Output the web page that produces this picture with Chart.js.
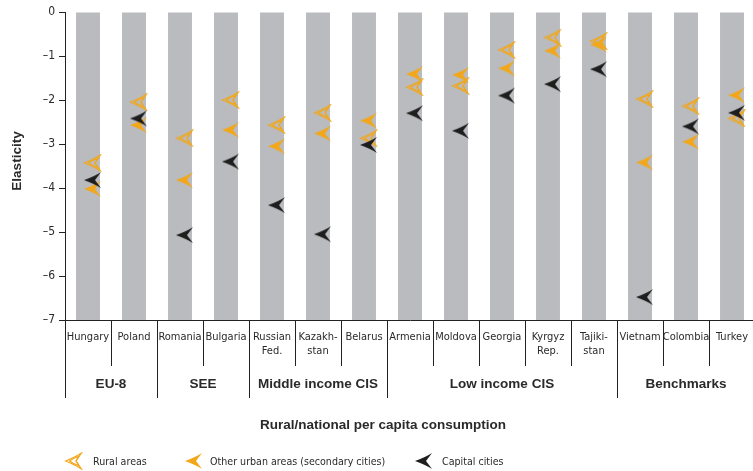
<!DOCTYPE html>
<html>
<head>
<meta charset="utf-8">
<script src="https://cdn.jsdelivr.net/npm/chart.js@4.4.0/dist/chart.umd.min.js"></script>
<style>
  html, body { margin: 0; padding: 0; background: #fff; overflow: hidden; }
  #wrap { width: 765px; height: 471px; position: relative; }
</style>
</head>
<body>
<div id="wrap"><canvas id="myChart"></canvas></div>
<script>
var countries = ['Hungary', 'Poland', 'Romania', 'Bulgaria', ['Russian', 'Fed.'], ['Kazakh-', 'stan'], 'Belarus',
    'Armenia', 'Moldova', 'Georgia', ['Kyrgyz', 'Rep.'], ['Tajiki-', 'stan'], 'Vietnam', 'Colombia', 'Turkey'];
var groupNames = ['EU-8', 'SEE', 'Middle income CIS', 'Low income CIS', 'Benchmarks'];
var groupSizes = [2, 2, 3, 5, 3];

var rural = [-3.43, -2.05, -2.87, -2.0, -2.57, -2.29, -2.87, -1.71, -1.68, -0.86, -0.58, -0.66, -1.98, -2.14, -2.42];
var otherUrban = [-4.02, -2.57, -3.82, -2.68, -3.05, -2.76, -2.47, -1.41, -1.43, -1.28, -0.88, -0.74, -3.42, -2.95, -1.89];
var capital = [-3.82, -2.42, -5.07, -3.4, -4.39, -5.05, -3.02, -2.3, -2.7, -1.9, -1.64, -1.3, -6.48, -2.6, -2.29];
// grey background columns run over the full scale
var columnFloor = [-7, -7, -7, -7, -7, -7, -7, -7, -7, -7, -7, -7, -7, -7, -7];
var yTicks = [0, -1, -2, -3, -4, -5, -6, -7];

var ORANGE = '#f2a71b';
var BLACK = '#1e1e1e';
var GREY = '#b9bbbe';
var TEXT = '#2a2a2a';
var NARROW = '"Liberation Sans Narrow", "DejaVu Sans Condensed", "Liberation Sans", sans-serif';
var BOLD = '"Liberation Sans", Arial, sans-serif';

/**
 * Builds an arrowhead marker pointing left, drawn a bit right of the canvas centre
 */
function makeArrow(color, hollow) {
    var c = document.createElement('canvas');
    c.width = 28;
    c.height = 18;
    var ctx = c.getContext('2d');
    function shape(tx, bx, nx, inset) {
        ctx.beginPath();
        ctx.moveTo(tx, 9);
        ctx.quadraticCurveTo(bx - 6, 5 + inset * 0.4, bx, 1 + inset);
        ctx.lineTo(nx, 9);
        ctx.lineTo(bx, 17 - inset);
        ctx.quadraticCurveTo(bx - 6, 13 - inset * 0.4, tx, 9);
        ctx.closePath();
    }
    if (hollow) {
        ctx.strokeStyle = color;
        ctx.lineWidth = 1.1;
        shape(10.5, 26.5, 21, 0);
        ctx.stroke();
        shape(14.5, 24, 21, 3.2);
        ctx.stroke();
    } else {
        ctx.fillStyle = color;
        shape(10, 27, 21, 0);
        ctx.fill();
    }
    return c;
}

var ruralMark = makeArrow(ORANGE, true);
var otherMark = makeArrow(ORANGE, false);
var capitalMark = makeArrow(BLACK, false);

var bottomPlugin = {
    id: 'bottomTable',
    afterDraw: function (chart) {
        var ctx = chart.ctx;
        var x = chart.scales.x;
        var area = chart.chartArea;
        var half = (x.getPixelForValue(1) - x.getPixelForValue(0)) / 2;
        ctx.save();
        ctx.strokeStyle = '#222';
        ctx.lineWidth = 1;
        // country separators
        for (var i = 1; i < countries.length; i++) {
            var px = Math.round(x.getPixelForValue(i) - half) + 0.5;
            ctx.beginPath();
            ctx.moveTo(px, area.bottom);
            ctx.lineTo(px, 366);
            ctx.stroke();
        }
        // group separators and names
        var start = 0;
        ctx.fillStyle = TEXT;
        ctx.font = 'bold 13.5px ' + BOLD;
        ctx.textAlign = 'center';
        ctx.textBaseline = 'middle';
        for (var g = 0; g < groupNames.length; g++) {
            var left = Math.round(x.getPixelForValue(start) - half) + 0.5;
            ctx.beginPath();
            ctx.moveTo(left, area.bottom);
            ctx.lineTo(left, 398);
            ctx.stroke();
            var end = start + groupSizes[g] - 1;
            var mid = (x.getPixelForValue(start) + x.getPixelForValue(end)) / 2;
            ctx.fillText(groupNames[g], mid, 384);
            start += groupSizes[g];
        }
        // axis titles
        ctx.fillText('Rural/national per capita consumption', 383, 425);
        ctx.save();
        ctx.translate(17, 161);
        ctx.rotate(-Math.PI / 2);
        ctx.fillText('Elasticity', 0, 0);
        ctx.restore();
        // legend
        var items = [[ruralMark, 65, 'Rural areas', 93], [otherMark, 185, 'Other urban areas (secondary cities)', 210],
            [capitalMark, 415, 'Capital cities', 442]];
        ctx.font = '10.6px ' + NARROW;
        ctx.textAlign = 'left';
        items.forEach(function (it) {
            ctx.drawImage(it[0], it[1] - 10, 461 - 9);
            ctx.fillText(it[2], it[3], 462);
        });
        ctx.restore();
    }
};

function pointSet(label, values, mark) {
    return {
        type: 'line', label: label, data: values, showLine: false,
        pointStyle: mark, pointRadius: 9, pointHoverRadius: 9, order: 0
    };
}

var ctx = document.getElementById('myChart').getContext('2d');
var myChart = new Chart(ctx, {
    type: 'bar',
    data: {
        labels: countries,
        datasets: [
            pointSet('Capital cities', capital, capitalMark),
            pointSet('Other urban areas (secondary cities)', otherUrban, otherMark),
            pointSet('Rural areas', rural, ruralMark),
            {
                type: 'bar', label: 'column', data: columnFloor, backgroundColor: GREY,
                categoryPercentage: 1, barPercentage: 0.52, order: 5
            }
        ]
    },
    plugins: [bottomPlugin],
    options: {
        responsive: true,
        maintainAspectRatio: false,
        animation: false,
        events: [],
        layout: {padding: {top: 12, left: 0, right: 0, bottom: 0}},
        plugins: {legend: {display: false}, tooltip: {enabled: false}},
        scales: {
            x: {
                offset: true,
                grid: {display: false, drawTicks: false},
                border: {display: true, color: '#222', width: 1},
                ticks: {
                    color: TEXT, padding: 10, maxRotation: 0, autoSkip: false,
                    font: {family: NARROW, size: 11, lineHeight: 1.3}
                },
                afterFit: function (s) { s.height = 151; }
            },
            y: {
                min: -7, max: 0,
                afterBuildTicks: function (s) { s.ticks = yTicks.map(function (v) { return {value: v}; }); },
                grid: {drawOnChartArea: false, tickLength: 6, color: '#222'},
                border: {display: true, color: '#222', width: 1},
                ticks: {
                    color: TEXT, padding: 4,
                    font: {family: NARROW, size: 12},
                    callback: function (v) { return v === 0 ? '0' : '\u2013' + Math.abs(v); }
                },
                afterFit: function (s) { s.width = 65; }
            }
        }
    }
});
</script>
</body>
</html>
